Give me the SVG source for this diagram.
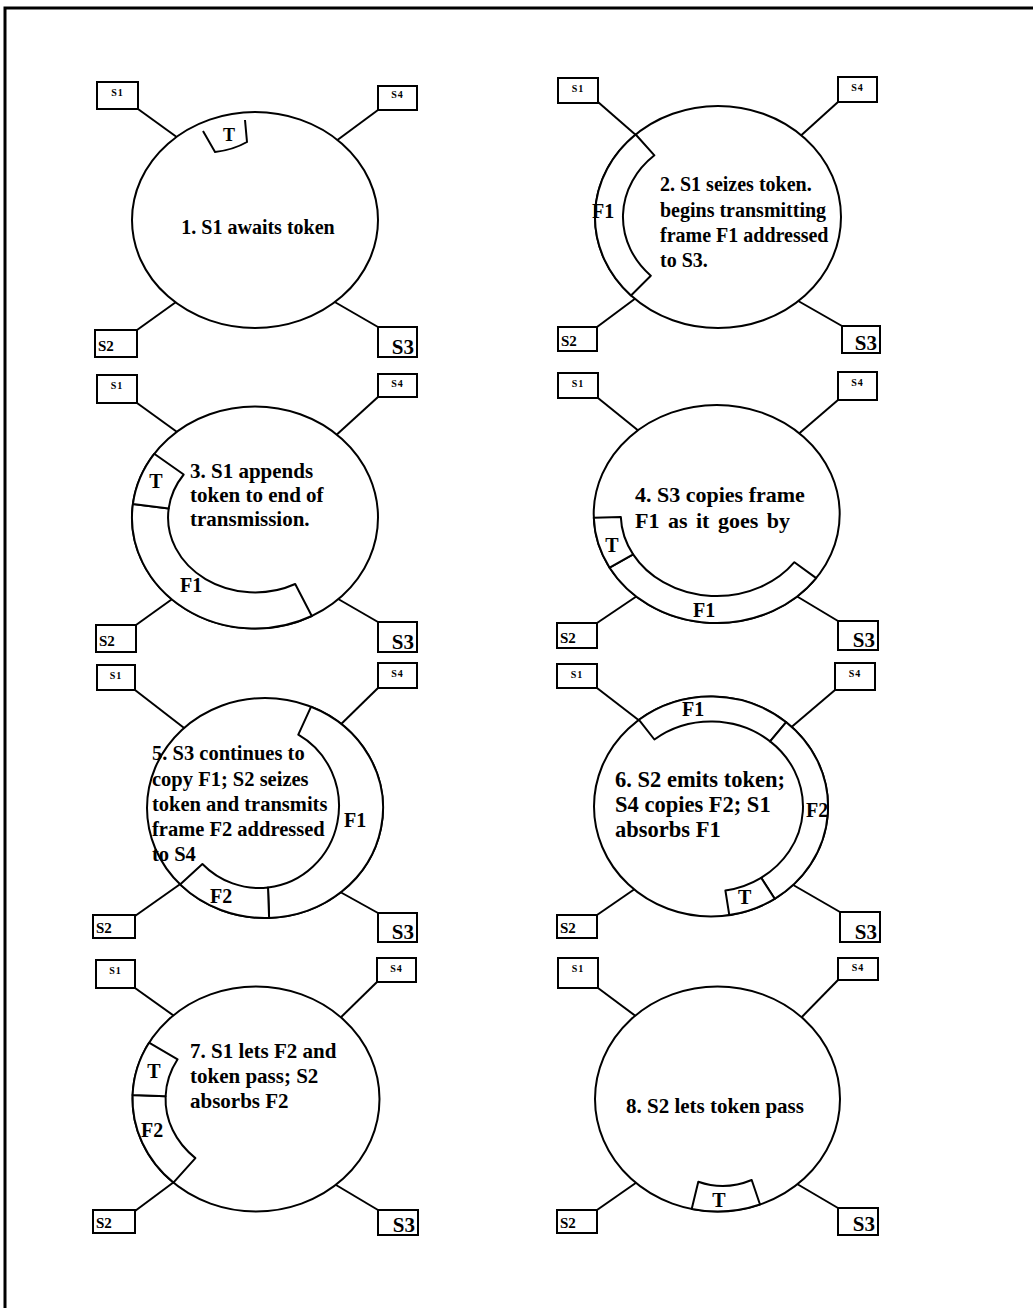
<svg xmlns="http://www.w3.org/2000/svg" width="1033" height="1308" viewBox="0 0 1033 1308">
<style>
.frame{fill:none;stroke:#000;stroke-width:3}
.link{stroke:#000;stroke-width:2;fill:none}
.ring{fill:#fff;stroke:#000;stroke-width:2}
.band{fill:#fff;stroke:#000;stroke-width:2;stroke-linejoin:round}
.tok{fill:none;stroke:#000;stroke-width:2}
.box{fill:#fff;stroke:#000;stroke-width:2}
text{font-family:"Liberation Serif","Times New Roman",serif;font-weight:bold;fill:#000}
.cap{font-size:20px}
.c20{font-size:20.5px}
.c21{font-size:21px}
.c22{font-size:22px}
.c23{font-size:22.5px}
.lab{font-size:20px}
.sm{font-size:10px;letter-spacing:1px;text-anchor:middle}
.md{font-size:15px}
.lg{font-size:21px;text-anchor:end}
.mid{text-anchor:middle}
</style>
<rect width="1033" height="1308" fill="#fff"/>
<path class="frame" d="M5,1308 L5,8 L1033,8"/>

<g id="connectors">
<line class="link" x1="138" y1="109" x2="185" y2="143"/>
<line class="link" x1="378" y1="110" x2="332" y2="144"/>
<line class="link" x1="137" y1="330" x2="183" y2="297"/>
<line class="link" x1="378" y1="327" x2="333" y2="301"/>

<line class="link" x1="598" y1="102" x2="645" y2="143"/>
<line class="link" x1="838" y1="102" x2="796" y2="140"/>
<line class="link" x1="597" y1="327" x2="640" y2="295"/>
<line class="link" x1="842" y1="326" x2="793" y2="298"/>

<line class="link" x1="137" y1="403" x2="184" y2="437"/>
<line class="link" x1="378" y1="397" x2="333" y2="438"/>
<line class="link" x1="136" y1="625" x2="182" y2="592"/>
<line class="link" x1="378" y1="622" x2="333" y2="596"/>

<line class="link" x1="598" y1="398" x2="645" y2="436"/>
<line class="link" x1="838" y1="400" x2="795" y2="437"/>
<line class="link" x1="597" y1="623" x2="640" y2="594"/>
<line class="link" x1="838" y1="621" x2="793" y2="594"/>

<line class="link" x1="135" y1="690" x2="188" y2="731"/>
<line class="link" x1="378" y1="688" x2="333" y2="732"/>
<line class="link" x1="135" y1="916" x2="186" y2="880"/>
<line class="link" x1="378" y1="913" x2="333" y2="888"/>

<line class="link" x1="597" y1="688" x2="645" y2="725"/>
<line class="link" x1="835" y1="690" x2="788" y2="730"/>
<line class="link" x1="597" y1="915" x2="642" y2="884"/>
<line class="link" x1="840" y1="912" x2="788" y2="882"/>

<line class="link" x1="135" y1="988" x2="184" y2="1023"/>
<line class="link" x1="377" y1="982" x2="333" y2="1025"/>
<line class="link" x1="135" y1="1211" x2="180" y2="1177.5"/>
<line class="link" x1="378" y1="1210" x2="331" y2="1182"/>

<line class="link" x1="598" y1="988" x2="645" y2="1023"/>
<line class="link" x1="838" y1="980" x2="795" y2="1024"/>
<line class="link" x1="597" y1="1210" x2="640" y2="1180"/>
<line class="link" x1="838" y1="1208" x2="792" y2="1181"/>
</g>

<!-- Panel 1 -->
<g id="p1-ring">
<ellipse class="ring" cx="255" cy="220" rx="123" ry="108"/>
<path class="tok" d="M203,131 L215,152 Q233,150 247,142 L245,120"/>
<text class="lab mid" x="229" y="141" style="font-size:18px">T</text>
<text class="cap mid" x="258" y="234">1. S1 awaits token</text>
</g>
<g id="p1-s1"><rect class="box" x="97" y="82" width="41" height="27"/><text class="sm" x="117.5" y="96">S1</text></g>
<g id="p1-s4"><rect class="box" x="378" y="86" width="39" height="24"/><text class="sm" x="397.5" y="98">S4</text></g>
<g id="p1-s2"><rect class="box" x="95" y="330" width="42" height="27"/><text class="md" x="98" y="351">S2</text></g>
<g id="p1-s3"><rect class="box" x="378" y="327" width="39" height="30"/><text class="lg" x="414" y="354">S3</text></g>

<!-- Panel 2 -->
<g id="p2-ring">
<ellipse class="ring" cx="718" cy="217" rx="123" ry="111"/>
<path class="band" d="M631,295.5 A123,111 0 0 1 635.7,134.5 L654.4,155.3 A95,83 0 0 0 650.8,275.7 Z"/>
<text class="lab" x="592" y="218">F1</text>
<text class="cap" x="660" y="191">2. S1 seizes token.</text>
<text class="cap" x="660" y="217">begins transmitting</text>
<text class="cap" x="660" y="242">frame F1 addressed</text>
<text class="cap" x="660" y="267">to S3.</text>
</g>
<g id="p2-s1"><rect class="box" x="558" y="78" width="40" height="25"/><text class="sm" x="578" y="92">S1</text></g>
<g id="p2-s4"><rect class="box" x="838" y="77" width="39" height="25"/><text class="sm" x="857.5" y="91">S4</text></g>
<g id="p2-s2"><rect class="box" x="558" y="327" width="39" height="24"/><text class="md" x="561" y="346">S2</text></g>
<g id="p2-s3"><rect class="box" x="842" y="326" width="38" height="27"/><text class="lg" x="877" y="350">S3</text></g>

<!-- Panel 3 -->
<g id="p3-ring">
<ellipse class="ring" cx="255" cy="517.5" rx="123" ry="111"/>
<path class="band" d="M311.8,616 A123,111 0 0 1 132.9,504 L168.7,508.4 A87,75 0 0 0 295.2,584 Z"/>
<path class="band" d="M132.9,504 A123,111 0 0 1 154.2,453.8 L183.7,474.5 A87,75 0 0 0 168.7,508.4 Z"/>
<text class="lab mid" x="156" y="488">T</text>
<text class="lab" x="180" y="592">F1</text>
<text class="c21" x="190" y="478">3. S1 appends</text>
<text class="c21" x="190" y="502">token to end of</text>
<text class="c21" x="190" y="526">transmission.</text>
</g>
<g id="p3-s1"><rect class="box" x="97" y="375" width="40" height="28"/><text class="sm" x="117" y="389">S1</text></g>
<g id="p3-s4"><rect class="box" x="378" y="374" width="39" height="23"/><text class="sm" x="397.5" y="387">S4</text></g>
<g id="p3-s2"><rect class="box" x="96" y="625" width="40" height="27"/><text class="md" x="99" y="646">S2</text></g>
<g id="p3-s3"><rect class="box" x="378" y="622" width="39" height="30"/><text class="lg" x="414" y="649">S3</text></g>

<!-- Panel 4 -->
<g id="p4-ring">
<ellipse class="ring" cx="716.7" cy="514" rx="123" ry="109"/>
<path class="band" d="M816.2,578.1 A123,109 0 0 1 609.6,567.7 L633.1,554.4 A96,82 0 0 0 794.4,562.2 Z"/>
<path class="band" d="M609.6,567.7 A123,109 0 0 1 593.8,517.8 L620.8,516.9 A96,82 0 0 0 633.1,554.4 Z"/>
<text class="lab mid" x="612" y="552">T</text>
<text class="lab" x="693" y="617">F1</text>
<text class="c22" x="635" y="502">4. S3 copies frame</text>
<text class="c22" x="635" y="528" word-spacing="3">F1 as it goes by</text>
</g>
<g id="p4-s1"><rect class="box" x="558" y="373" width="40" height="25"/><text class="sm" x="578" y="387">S1</text></g>
<g id="p4-s4"><rect class="box" x="838" y="372" width="39" height="28"/><text class="sm" x="857.5" y="386">S4</text></g>
<g id="p4-s2"><rect class="box" x="557" y="623" width="40" height="25"/><text class="md" x="560" y="643">S2</text></g>
<g id="p4-s3"><rect class="box" x="838" y="621" width="40" height="29"/><text class="lg" x="875" y="647">S3</text></g>

<!-- Panel 5 -->
<g id="p5-ring">
<ellipse class="ring" cx="265" cy="808" rx="118" ry="110"/>
<path class="band" d="M311.1,706.7 A118,110 0 0 1 269.1,917.9 L268,887.5 A80,82 0 0 0 298.3,734.6 Z"/>
<path class="band" d="M269.1,917.9 A118,110 0 0 1 180.1,884.4 L202.4,864 A80,82 0 0 0 268,887.5 Z"/>
<text class="lab" x="344" y="827">F1</text>
<text class="lab" x="210" y="903">F2</text>
<text class="c20" x="152" y="760">5. S3 continues to</text>
<text class="c20" x="152" y="786">copy F1; S2 seizes</text>
<text class="c20" x="152" y="811">token and transmits</text>
<text class="c20" x="152" y="836">frame F2 addressed</text>
<text class="c20" x="152" y="861">to S4</text>
</g>
<g id="p5-s1"><rect class="box" x="97" y="665" width="38" height="25"/><text class="sm" x="116" y="679">S1</text></g>
<g id="p5-s4"><rect class="box" x="378" y="663" width="39" height="25"/><text class="sm" x="397.5" y="677">S4</text></g>
<g id="p5-s2"><rect class="box" x="93" y="915" width="42" height="23"/><text class="md" x="96" y="933">S2</text></g>
<g id="p5-s3"><rect class="box" x="378" y="913" width="39" height="29"/><text class="lg" x="414" y="939">S3</text></g>

<!-- Panel 6 -->
<g id="p6-ring">
<ellipse class="ring" cx="711" cy="806.5" rx="117" ry="110"/>
<path class="band" d="M639,719.8 A117,110 0 0 1 786.2,722.2 L770.1,741.4 A92,85 0 0 0 654.4,739.5 Z"/>
<path class="band" d="M786.2,722.2 A117,110 0 0 1 774.7,898.8 L761.1,877.8 A92,85 0 0 0 770.1,741.4 Z"/>
<path class="band" d="M774.7,898.8 A117,110 0 0 1 729.3,915.1 L725.4,890.5 A92,85 0 0 0 761.1,877.8 Z"/>
<text class="lab" x="682" y="716">F1</text>
<text class="lab" x="806" y="817">F2</text>
<text class="lab" x="738" y="904">T</text>
<text class="c23" x="615" y="787">6. S2 emits token;</text>
<text class="c23" x="615" y="812">S4 copies F2; S1</text>
<text class="c23" x="615" y="837">absorbs F1</text>
</g>
<g id="p6-s1"><rect class="box" x="557" y="664" width="40" height="24"/><text class="sm" x="577" y="678">S1</text></g>
<g id="p6-s4"><rect class="box" x="835" y="663" width="40" height="27"/><text class="sm" x="855" y="677">S4</text></g>
<g id="p6-s2"><rect class="box" x="557" y="915" width="40" height="23"/><text class="md" x="560" y="933">S2</text></g>
<g id="p6-s3"><rect class="box" x="840" y="912" width="40" height="30"/><text class="lg" x="877" y="939">S3</text></g>

<!-- Panel 7 -->
<g id="p7-ring">
<ellipse class="ring" cx="256" cy="1099" rx="123.5" ry="112.5"/>
<path class="band" d="M173.4,1182.6 A123.5,112.5 0 0 1 132.6,1095.1 L165.6,1096.2 A90.5,79.5 0 0 0 195.4,1158.1 Z"/>
<path class="band" d="M132.6,1095.1 A123.5,112.5 0 0 1 149,1042.7 L177.6,1059.3 A90.5,79.5 0 0 0 165.6,1096.2 Z"/>
<text class="lab mid" x="154" y="1078">T</text>
<text class="lab" x="141" y="1137">F2</text>
<text class="c21" x="190" y="1058">7. S1 lets F2 and</text>
<text class="c21" x="190" y="1083">token pass; S2</text>
<text class="c21" x="190" y="1108">absorbs F2</text>
</g>
<g id="p7-s1"><rect class="box" x="96" y="960" width="39" height="28"/><text class="sm" x="115.5" y="974">S1</text></g>
<g id="p7-s4"><rect class="box" x="377" y="958" width="39" height="24"/><text class="sm" x="396.5" y="972">S4</text></g>
<g id="p7-s2"><rect class="box" x="93" y="1210" width="42" height="23"/><text class="md" x="96" y="1228">S2</text></g>
<g id="p7-s3"><rect class="box" x="378" y="1210" width="40" height="25"/><text class="lg" x="415" y="1232">S3</text></g>

<!-- Panel 8 -->
<g id="p8-ring">
<ellipse class="ring" cx="717.5" cy="1099" rx="122.5" ry="112.5"/>
<path class="band" d="M691.7,1209 L698.3,1181.7 Q725,1191 751.7,1180 L760,1204.5 A122.5,112.5 0 0 1 691.7,1209 Z"/>
<text class="lab mid" x="719" y="1207">T</text>
<text class="c21 mid" x="715" y="1113">8. S2 lets token pass</text>
</g>
<g id="p8-s1"><rect class="box" x="558" y="958" width="40" height="30"/><text class="sm" x="578" y="972">S1</text></g>
<g id="p8-s4"><rect class="box" x="838" y="958" width="40" height="22"/><text class="sm" x="858" y="971">S4</text></g>
<g id="p8-s2"><rect class="box" x="557" y="1210" width="40" height="23"/><text class="md" x="560" y="1228">S2</text></g>
<g id="p8-s3"><rect class="box" x="838" y="1208" width="40" height="27"/><text class="lg" x="875" y="1231">S3</text></g>
</svg>
